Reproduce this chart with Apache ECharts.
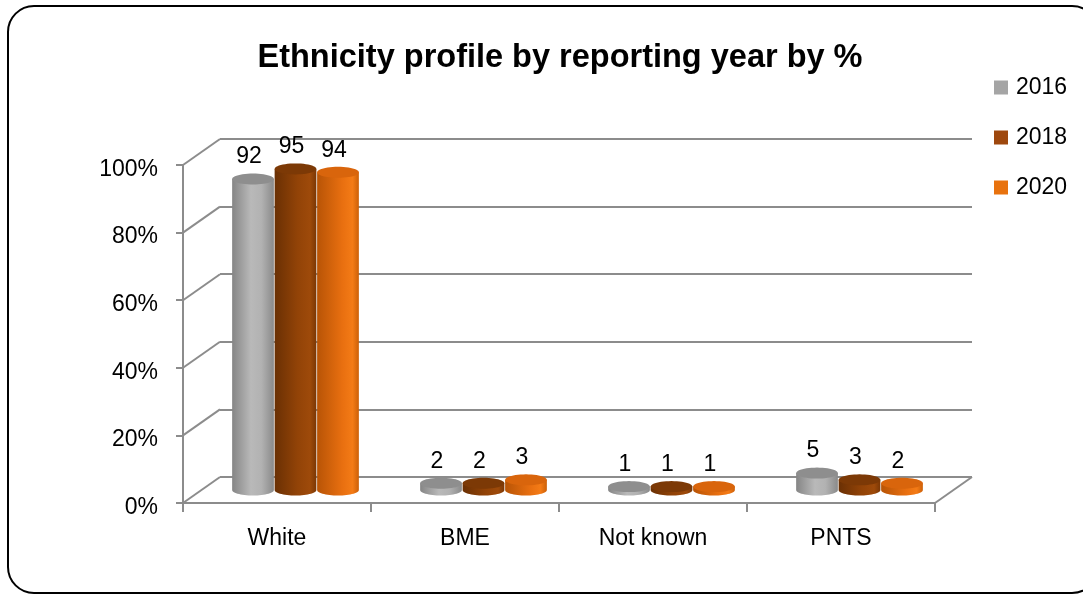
<!DOCTYPE html>
<html>
<head>
<meta charset="utf-8">
<script src="https://cdn.jsdelivr.net/npm/echarts@6/dist/echarts.min.js"></script>
<style>
  html, body { margin: 0; padding: 0; background: #ffffff; }
  #chart { width: 1083px; height: 594px; }
</style>
</head>
<body>
<div id="chart"></div>
<script>
// ---- data ----
const categories = ['White', 'BME', 'Not known', 'PNTS'];
const years = ['2016', '2018', '2020'];
const values2016 = [92, 2, 1, 5];
const values2018 = [95, 2, 1, 3];
const values2020 = [94, 3, 1, 2];
const percentTicks = [0, 20, 40, 60, 80, 100];

// ---- look ----
const FONT = 'Liberation Sans';
const GRID_COLOR = '#8c8c8c';
const DX = 37, DY = -26;           // depth of the 3D box (front plane -> back wall)
const legendColors = ['#a5a5a5', '#9e480e', '#e8720e'];
const bodyStops = [
  [[0, '#858585'], [0.45, '#b9b9b9'], [0.7, '#b2b2b2'], [1, '#8a8a8a']],
  [[0, '#6a3004'], [0.55, '#924307'], [0.85, '#9e4a0a'], [1, '#7a3705']],
  [[0, '#b85406'], [0.6, '#e86f10'], [0.85, '#f47b16'], [1, '#cc6008']]
];
const topColors = ['#8e8e8e', '#7c3906', '#d9650c'];
const seriesValues = [values2016, values2018, values2020];

function ellipsePoints(cx, cy, rx, ry, a0, a1, n) {
  const pts = [];
  for (let i = 0; i <= n; i++) {
    const a = a0 + (a1 - a0) * i / n;
    pts.push([cx + rx * Math.cos(a), cy + ry * Math.sin(a)]);
  }
  return pts;
}

function cylinderRenderer(k) {
  return function (params, api) {
    const idx = api.value(0);
    const val = api.value(1);
    const band = api.size([1, 0])[0];
    const base = api.coord([idx, 0]);
    const top = api.coord([idx, val]);
    const w = band * 0.222;
    const rx = w / 2, ry = 5.5;
    const cx = base[0] + DX / 2 + (k - 1) * band * 0.226;
    const by = base[1] + DY / 2;
    const ty = top[1] + DY / 2;
    const bodyPts = [[cx - rx, ty], [cx - rx, by]]
      .concat(ellipsePoints(cx, by, rx, ry, Math.PI, 0, 30))
      .concat([[cx + rx, ty]]);
    const stops = bodyStops[k].map(s => ({ offset: s[0], color: s[1] }));
    return {
      type: 'group',
      children: [
        {
          type: 'polygon',
          shape: { points: bodyPts },
          style: { fill: { type: 'linear', x: 0, y: 0, x2: 1, y2: 0, colorStops: stops } }
        },
        {
          type: 'polygon',
          shape: { points: ellipsePoints(cx, ty, rx, ry, 0, Math.PI * 2, 48) },
          style: { fill: topColors[k] }
        },
        {
          type: 'text',
          style: {
            text: String(val),
            x: cx - 4, y: ty - 22,
            align: 'center', verticalAlign: 'middle',
            textAlign: 'center', textVerticalAlign: 'middle',
            fontSize: 23, fontFamily: FONT, fill: '#000000'
          }
        }
      ]
    };
  };
}

const chart = echarts.init(document.getElementById('chart'), null, { renderer: 'canvas' });

const cylinderSeries = years.map((y, k) => ({
  name: y,
  type: 'custom',
  xAxisIndex: 0,
  yAxisIndex: 0,
  itemStyle: { color: legendColors[k] },
  renderItem: cylinderRenderer(k),
  encode: { x: 0, y: 1 },
  data: seriesValues[k].map((v, i) => [i, v]),
  z: 5
}));

const option = {
  backgroundColor: '#ffffff',
  animation: false,
  color: legendColors,
  title: {
    text: 'Ethnicity profile by reporting year by %',
    left: 555,
    top: 37,
    textAlign: 'center',
    textStyle: { fontFamily: FONT, fontSize: 32.5, fontWeight: 'bold', color: '#000000' }
  },
  legend: {
    data: years,
    orient: 'vertical',
    left: 994,
    top: 76,
    padding: 0,
    icon: 'rect',
    itemWidth: 14,
    itemHeight: 14,
    itemGap: 27,
    textStyle: { fontFamily: FONT, fontSize: 23, color: '#000000', lineHeight: 23, padding: [0, 0, 0, 3] }
  },
  graphic: [{
    type: 'rect',
    shape: { x: 8, y: 6, width: 1090, height: 587, r: 26 },
    style: { fill: null, stroke: '#000000', lineWidth: 2 },
    silent: true
  }],
  grid: [
    { left: 183, top: 165, width: 752, height: 338 },   // front plane
    { left: 220, top: 139, width: 752, height: 338 }    // back wall
  ],
  xAxis: [
    {
      type: 'category', gridIndex: 0, data: categories,
      axisLine: { lineStyle: { color: GRID_COLOR, width: 2 } },
      axisTick: { show: true, length: 9, lineStyle: { color: GRID_COLOR, width: 2 } },
      axisLabel: { fontFamily: FONT, fontSize: 23, color: '#000000', margin: 24 },
      splitLine: { show: false }
    },
    { type: 'category', gridIndex: 1, data: categories, show: false }
  ],
  yAxis: [
    {
      type: 'value', gridIndex: 0, min: 0, max: 100, interval: 20,
      axisLine: { show: true, lineStyle: { color: GRID_COLOR, width: 2 } },
      axisTick: { show: true, length: 7, lineStyle: { color: GRID_COLOR, width: 2 } },
      axisLabel: {
        margin: 25,
        formatter: function (v) { return '{p|' + v + '%}'; },
        rich: { p: { fontFamily: FONT, fontSize: 23, color: '#000000', padding: [9, 0, 0, 0] } }
      },
      splitLine: { show: false }
    },
    {
      type: 'value', gridIndex: 1, min: 0, max: 100, interval: 20,
      axisLine: { show: false }, axisTick: { show: false }, axisLabel: { show: false },
      splitLine: { show: true, lineStyle: { color: GRID_COLOR, width: 2 } }
    }
  ],
  series: [
    {
      // side wall and floor edges joining the front plane to the back wall
      name: 'walls',
      type: 'custom',
      xAxisIndex: 0,
      yAxisIndex: 0,
      silent: true,
      z: 1,
      encode: { x: 0, y: 1 },
      data: percentTicks.map(v => [0, v]),
      renderItem: function (params, api) {
        const cs = params.coordSys;
        const y = api.coord([0, api.value(1)])[1];
        const children = [{
          type: 'line',
          shape: { x1: cs.x, y1: y, x2: cs.x + DX, y2: y + DY },
          style: { stroke: GRID_COLOR, lineWidth: 2 }
        }];
        if (api.value(1) === 0) {
          children.push({
            type: 'line',
            shape: { x1: cs.x + cs.width, y1: y, x2: cs.x + cs.width + DX, y2: y + DY },
            style: { stroke: GRID_COLOR, lineWidth: 2 }
          });
        }
        return { type: 'group', children: children };
      }
    }
  ].concat(cylinderSeries)
};

chart.setOption(option);
</script>
</body>
</html>
